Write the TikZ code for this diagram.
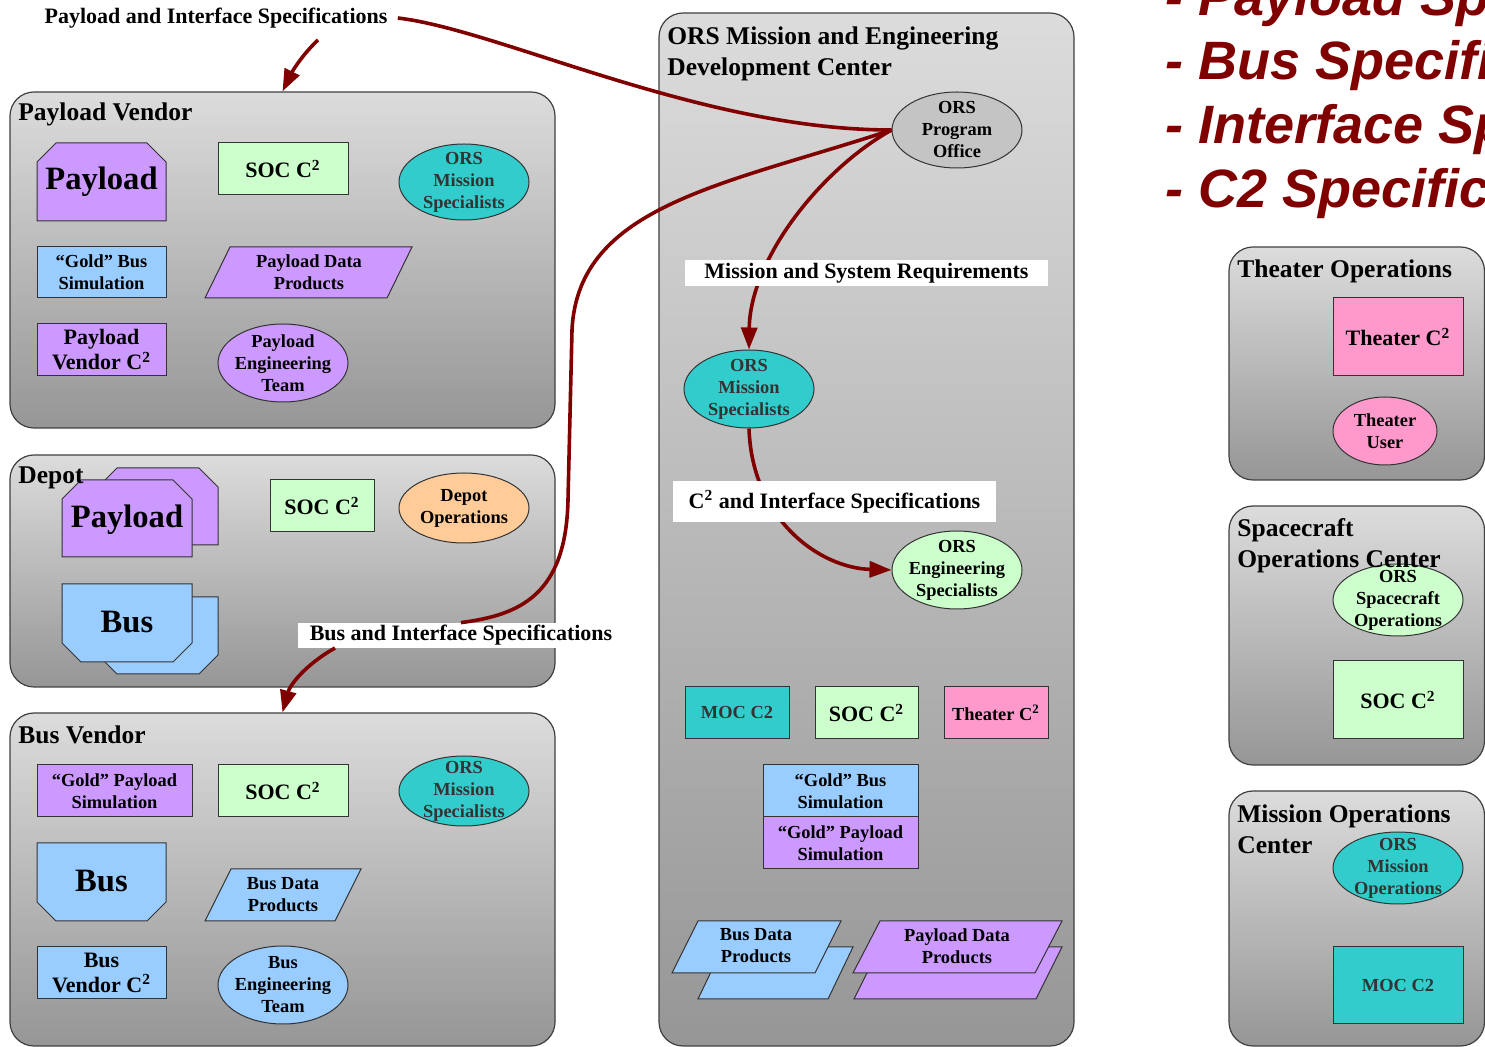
\documentclass[tikz,border=0pt]{standalone}
\usepackage{fontspec}
\setmainfont{Liberation Serif}
\newfontfamily\listfont{Liberation Sans}
\usetikzlibrary{arrows.meta,shapes.geometric}

\definecolor{purp}{HTML}{CC99FF}
\definecolor{sky}{HTML}{99CCFF}
\definecolor{mint}{HTML}{CCFFCC}
\definecolor{tealx}{HTML}{33CCCC}
\definecolor{rose}{HTML}{FF99CC}
\definecolor{peach}{HTML}{FFCC99}
\definecolor{pogray}{HTML}{C4C4C4}
\definecolor{maroon}{HTML}{800000}
\definecolor{nodeline}{HTML}{333333}
\definecolor{panelline}{HTML}{404040}
\definecolor{darktext}{HTML}{333333}
\definecolor{paneltop}{HTML}{DCDCDC}
\definecolor{panelbot}{HTML}{969696}

% chamfered boxes: top corners cut / bottom corners cut
\newcommand{\cuttop}[5]{\filldraw[#5] (#1,#4) -- (#1,#2+19) -- (#1+19,#2) -- (#3-19,#2) -- (#3,#2+19) -- (#3,#4) -- cycle;}
\newcommand{\cutbot}[5]{\filldraw[#5] (#1,#2) -- (#3,#2) -- (#3,#4-19) -- (#3-19,#4) -- (#1+19,#4) -- (#1,#4-19) -- cycle;}
% parallelogram: bottom-left x, top y, bottom y, slant, width, style
\newcommand{\para}[6]{\filldraw[#6] (#1,#3) -- (#1+#4,#2) -- (#1+#4+#5,#2) -- (#1+#5,#3) -- cycle;}

\tikzset{
  panel/.style={draw=panelline, line width=0.6pt, rounded corners=12pt,
    top color=paneltop, bottom color=panelbot, inner sep=0pt},
  shp/.style={draw=nodeline, line width=0.5pt},
  boxnode/.style={shp, rectangle, inner sep=0pt, align=center},
  ovalnode/.style={shp, ellipse, inner sep=0pt},
  txt/.style={inner sep=0pt, align=center},
  fsm/.style={font=\fontsize{9.2}{11}\selectfont\bfseries},
  fmd/.style={font=\fontsize{11}{12.5}\selectfont\bfseries},
  flg/.style={font=\fontsize{16.3}{18}\selectfont\bfseries},
  ptitle/.style={font=\fontsize{12.75}{15.5}\selectfont\bfseries, anchor=base west, inner sep=0pt},
  flow/.style={draw=maroon, line width=1.8pt},
  headed/.style={-{Triangle[length=11pt,width=8pt]}},
  tagbox/.style={fill=white, inner sep=0pt, fmd},
  speclist/.style={anchor=base west, inner sep=0pt, text=maroon,
    font=\listfont\fontsize{27}{31}\selectfont\bfseries\itshape},
}

\begin{document}
\begin{tikzpicture}[x=0.5pt,y=-0.5pt]
\useasboundingbox (0,0) rectangle (1485,1047);
\clip (0,0) rectangle (1485,1047);
\fill[white] (0,0) rectangle (1485,1047);

% ---------- panels ----------
\node[panel, minimum width=272.5pt, minimum height=168pt] (pv) at (282.5,260) {};
\node[panel, minimum width=272.5pt, minimum height=116pt] (dep) at (282.5,571) {};
\node[panel, minimum width=272.5pt, minimum height=166.5pt] (bv) at (282.5,879.5) {};
\node[panel, minimum width=207.5pt, minimum height=516.5pt] (medc) at (866.5,529.5) {};
\node[panel, minimum width=127.75pt, minimum height=116.5pt] (thop) at (1356.75,363.5) {};
\node[panel, minimum width=127.75pt, minimum height=129.5pt] (socp) at (1356.75,635.5) {};
\node[panel, minimum width=127.75pt, minimum height=127.5pt] (mocp) at (1356.75,918.5) {};

% ---------- Payload Vendor ----------
\cuttop{37}{143}{166}{221}{shp, fill=purp}
\node[txt, flg] (pv-pl) at (101.5,182) {Payload};
\node[boxnode, fill=mint, minimum width=65pt, minimum height=26pt, fmd] (pv-soc) at (283,169) {SOC C\textsuperscript{2}};
\node[ovalnode, fill=tealx, minimum width=65pt, minimum height=38pt] (pv-oms) at (464,182) {};
\node[txt, fsm, text=darktext] (pv-oms-l) at (pv-oms) {ORS\\Mission\\Specialists};
\node[boxnode, fill=sky, minimum width=64.5pt, minimum height=25.5pt, fsm] (pv-gbs) at (101.5,272.5) {“Gold” Bus\\Simulation};
\para{205}{247}{298}{25}{182}{shp, fill=purp}
\node[txt, fsm] (pv-pdp) at (309,272.5) {Payload Data\\Products};
\node[boxnode, fill=purp, minimum width=64.5pt, minimum height=26pt, fmd] (pv-vc2) at (101.5,350) {Payload\\Vendor C\textsuperscript{2}};
\node[ovalnode, fill=purp, minimum width=65pt, minimum height=39pt] (pv-pet) at (283,363) {};
\node[txt, fsm] (pv-pet-l) at (pv-pet) {Payload\\Engineering\\Team};

% ---------- Depot ----------
\cuttop{98}{468}{218}{545}{shp, fill=purp}
\cuttop{62}{480}{192}{557}{shp, fill=purp}
\node[txt, flg] (dep-pl) at (127,519.5) {Payload};
\cutbot{98}{597}{218}{674}{shp, fill=sky}
\cutbot{62}{584}{192}{662}{shp, fill=sky}
\node[txt, flg] (dep-bus) at (127,622) {Bus};
\node[boxnode, fill=mint, minimum width=52pt, minimum height=26pt, fmd] (dep-soc) at (322,506) {SOC C\textsuperscript{2}};
\node[ovalnode, fill=peach, minimum width=65pt, minimum height=35pt] (dep-ops) at (464,508) {};
\node[txt, fsm] (dep-ops-l) at (dep-ops) {Depot\\Operations};

% ---------- Bus Vendor ----------
\node[boxnode, fill=purp, minimum width=77.5pt, minimum height=26pt, fsm] (bv-gps) at (114.5,791) {“Gold” Payload\\Simulation};
\node[boxnode, fill=mint, minimum width=65pt, minimum height=26pt, fmd] (bv-soc) at (283,791) {SOC C\textsuperscript{2}};
\node[ovalnode, fill=tealx, minimum width=65pt, minimum height=35pt] (bv-oms) at (464,791) {};
\node[txt, fsm, text=darktext] (bv-oms-l) at (bv-oms) {ORS\\Mission\\Specialists};
\cutbot{37}{843}{166}{921}{shp, fill=sky}
\node[txt, flg] (bv-bus) at (101.5,881) {Bus};
\para{205}{869}{921}{26}{130}{shp, fill=sky}
\node[txt, fsm] (bv-bdp) at (283,895) {Bus Data\\Products};
\node[boxnode, fill=sky, minimum width=64.5pt, minimum height=26pt, fmd] (bv-vc2) at (101.5,973) {Bus\\Vendor C\textsuperscript{2}};
\node[ovalnode, fill=sky, minimum width=65pt, minimum height=39pt] (bv-bet) at (283,985) {};
\node[txt, fsm] (bv-bet-l) at (bv-bet) {Bus\\Engineering\\Team};

% ---------- ORS Mission and Engineering Development Center ----------
\node[ovalnode, fill=pogray, minimum width=65pt, minimum height=38pt] (po) at (957,130) {};
\node[txt, fsm] (po-l) at (po) {ORS\\Program\\Office};
\node[ovalnode, fill=tealx, minimum width=65pt, minimum height=39pt] (oms) at (749,389) {};
\node[txt, fsm, text=darktext] (oms-l) at (oms) {ORS\\Mission\\Specialists};
\node[ovalnode, fill=mint, minimum width=65pt, minimum height=39pt] (oes) at (957,570) {};
\node[txt, fsm] (oes-l) at (oes) {ORS\\Engineering\\Specialists};
\node[boxnode, fill=tealx, minimum width=52pt, minimum height=26pt, fsm, text=darktext] (c-moc) at (737,713) {MOC C2};
\node[boxnode, fill=mint, minimum width=51.5pt, minimum height=26pt, fmd] (c-soc) at (866.5,713) {SOC C\textsuperscript{2}};
\node[boxnode, fill=rose, minimum width=52pt, minimum height=26pt, fsm] (c-thc) at (996,713) {Theater C\textsuperscript{2}};
\node[boxnode, fill=sky, minimum width=77.5pt, minimum height=26pt, fsm] (c-gbs) at (840.5,791) {“Gold” Bus\\Simulation};
\node[boxnode, fill=purp, minimum width=77.5pt, minimum height=26pt, fsm] (c-gps) at (840.5,843) {“Gold” Payload\\Simulation};
\para{698}{947}{999}{25}{130}{shp, fill=sky}
\para{672}{921}{973}{26}{143}{shp, fill=sky}
\node[txt, fsm] (c-bdp) at (756,946) {Bus Data\\Products};
\para{854}{947}{999}{26}{182}{shp, fill=purp}
\para{853}{921}{973}{27}{182}{shp, fill=purp}
\node[txt, fsm] (c-pdp) at (957,946) {Payload Data\\Products};

% ---------- Theater Operations ----------
\node[boxnode, fill=rose, minimum width=65pt, minimum height=39pt, fmd] (to-c2) at (1398,337) {Theater C\textsuperscript{2}};
\node[ovalnode, fill=rose, minimum width=52pt, minimum height=34pt] (to-user) at (1385,431) {};
\node[txt, fsm] (to-user-l) at (to-user) {Theater\\User};

% ---------- Spacecraft Operations Center ----------
\node[ovalnode, fill=mint, minimum width=65pt, minimum height=36pt] (sc-ops) at (1398,600) {};
\node[txt, fsm] (sc-ops-l) at (sc-ops) {ORS\\Spacecraft\\Operations};
\node[boxnode, fill=mint, minimum width=65pt, minimum height=39pt, fmd] (sc-soc) at (1398,700) {SOC C\textsuperscript{2}};

% ---------- Mission Operations Center ----------
\node[ovalnode, fill=tealx, minimum width=65pt, minimum height=36pt] (mo-ops) at (1398,868) {};
\node[txt, fsm, text=darktext] (mo-ops-l) at (mo-ops) {ORS\\Mission\\Operations};
\node[boxnode, fill=tealx, minimum width=65pt, minimum height=38.5pt, fsm, text=darktext] (mo-moc) at (1398,985.5) {MOC C2};

% ---------- flow labels that connectors end at ----------
\node[fill=white, inner xsep=5pt, inner ysep=2pt, fmd] (pis) at (216,18) {Payload and Interface Specifications};
\node[tagbox, minimum width=163pt, minimum height=12.5pt] (bis) at (461,635.5) {Bus and Interface Specifications};
\coordinate (pis-out) at (318,40);
\coordinate (bis-out) at (335,648);

% ---------- connectors ----------
\draw[flow] (po.west) .. controls (700,130) and (500,30) .. (pis.east);
\draw[flow, headed] (pis-out) .. controls (302,55) and (292,72) .. (pv.north);
\draw[flow] (po.west) .. controls (725,185) and (578,205) .. (572,330)
  -- (568,500) .. controls (566,595) and (520,615) .. (bis.north);
\draw[flow, headed] (bis-out) .. controls (305,665) and (290,685) .. (bv.north);
\draw[flow, headed] (po.west) .. controls (820,170) and (750,260) .. (oms.north);
\draw[flow, headed] (oms.south) .. controls (752,520) and (820,568) .. (oes.west);

% ---------- labels lying over connectors ----------
\node[tagbox, minimum width=181.5pt, minimum height=13pt] (msr) at (866.5,273) {Mission and System Requirements};
\node[tagbox, minimum width=161.5pt, minimum height=20.5pt] (cis) at (834.5,501.5) {C\textsuperscript{2} and Interface Specifications};

% ---------- panel titles ----------
\node[ptitle] (pv-t) at (18,121) {Payload Vendor};
\node[ptitle] (dep-t) at (18,484) {Depot};
\node[ptitle] (bv-t) at (18,744) {Bus Vendor};
\node[ptitle] (medc-t1) at (667,45) {ORS Mission and Engineering};
\node[ptitle] (medc-t2) at (667,76) {Development Center};
\node[ptitle] (thop-t) at (1237,278) {Theater Operations};
\node[ptitle] (socp-t1) at (1237,537) {Spacecraft};
\node[ptitle] (socp-t2) at (1237,568) {Operations Center};
\node[ptitle] (mocp-t1) at (1237,823) {Mission Operations};
\node[ptitle] (mocp-t2) at (1237,854) {Center};

% ---------- specification list ----------
\node[speclist] (spec1) at (1165,16) {- Payload Specifications};
\node[speclist] (spec2) at (1165,80) {- Bus Specifications};
\node[speclist] (spec3) at (1165,144) {- Interface Specifications};
\node[speclist] (spec4) at (1165,208) {- C2 Specifications};
\end{tikzpicture}
\end{document}
